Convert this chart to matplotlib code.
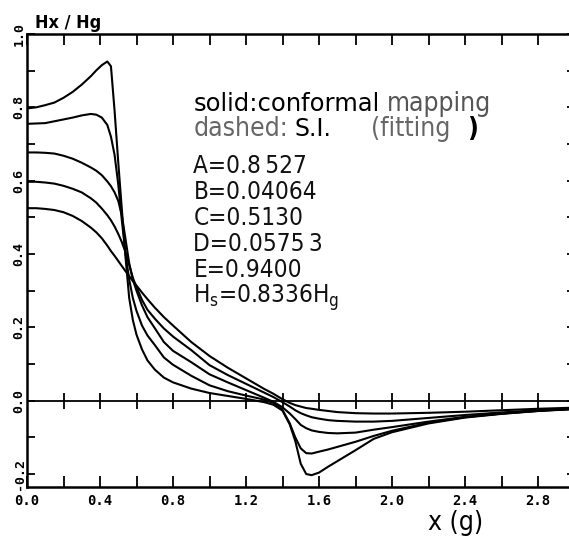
import numpy as np
import matplotlib
matplotlib.use('Agg')
import matplotlib.pyplot as plt

plt.rcParams['mathtext.fontset'] = 'custom'

x_g = [0.0, 0.05, 0.1, 0.15, 0.2, 0.25, 0.3, 0.35, 0.38, 0.41, 0.44, 0.46,
       0.48, 0.50, 0.52, 0.54, 0.56, 0.58, 0.6, 0.63, 0.66, 0.7, 0.75, 0.8,
       0.9, 1.0, 1.1, 1.2, 1.3, 1.35, 1.4, 1.44, 1.47, 1.5, 1.53, 1.56, 1.6,
       1.65, 1.7, 1.8, 1.9, 2.0, 2.2, 2.4, 2.6, 2.8, 3.0]

# Hx/Hg, five curves (top one with the sharp peak first)
hx_1 = [0.797, 0.800, 0.806, 0.813, 0.826, 0.842, 0.862, 0.885, 0.901, 0.915,
        0.925, 0.912, 0.790, 0.650, 0.520, 0.390, 0.280, 0.220, 0.180, 0.140,
        0.110, 0.085, 0.063, 0.050, 0.033, 0.021, 0.013, 0.005, -0.004,
        -0.011, -0.027, -0.065, -0.110, -0.172, -0.200, -0.203, -0.196,
        -0.180, -0.165, -0.135, -0.104, -0.086, -0.062, -0.046, -0.036,
        -0.028, -0.022]
hx_2 = [0.755, 0.756, 0.757, 0.762, 0.767, 0.772, 0.778, 0.782, 0.780, 0.772,
        0.752, 0.720, 0.670, 0.590, 0.490, 0.400, 0.330, 0.280, 0.245, 0.205,
        0.178, 0.152, 0.118, 0.098, 0.068, 0.042, 0.026, 0.014, 0.003,
        -0.006, -0.025, -0.062, -0.100, -0.130, -0.143, -0.144, -0.139,
        -0.133, -0.126, -0.112, -0.096, -0.082, -0.060, -0.045, -0.035,
        -0.027, -0.022]
hx_3 = [0.677, 0.677, 0.676, 0.674, 0.668, 0.660, 0.649, 0.636, 0.627, 0.615,
        0.598, 0.585, 0.568, 0.545, 0.505, 0.440, 0.375, 0.330, 0.300, 0.260,
        0.228, 0.198, 0.160, 0.136, 0.105, 0.072, 0.050, 0.029, 0.008,
        -0.003, -0.018, -0.035, -0.050, -0.066, -0.075, -0.081, -0.085,
        -0.088, -0.089, -0.087, -0.079, -0.072, -0.057, -0.044, -0.035,
        -0.028, -0.023]
hx_4 = [0.597, 0.597, 0.595, 0.592, 0.586, 0.578, 0.568, 0.552, 0.540, 0.524,
        0.506, 0.492, 0.475, 0.455, 0.432, 0.405, 0.370, 0.335, 0.310, 0.275,
        0.248, 0.224, 0.197, 0.175, 0.138, 0.097, 0.070, 0.046, 0.022, 0.010,
        -0.004, -0.016, -0.026, -0.034, -0.040, -0.045, -0.049, -0.053,
        -0.055, -0.057, -0.057, -0.055, -0.047, -0.039, -0.032, -0.026,
        -0.022]
hx_5 = [0.525, 0.525, 0.523, 0.520, 0.514, 0.504, 0.490, 0.472, 0.459, 0.443,
        0.423, 0.408, 0.395, 0.381, 0.367, 0.353, 0.340, 0.326, 0.314, 0.295,
        0.277, 0.254, 0.228, 0.205, 0.160, 0.122, 0.090, 0.061, 0.032, 0.019,
        0.004, -0.006, -0.012, -0.016, -0.020, -0.022, -0.025, -0.028,
        -0.031, -0.034, -0.035, -0.035, -0.033, -0.030, -0.026, -0.022,
        -0.019]

x_ticks = [0.0, 0.2, 0.4, 0.6, 0.8, 1.0, 1.2, 1.4, 1.6, 1.8, 2.0, 2.2, 2.4,
           2.6, 2.8, 3.0]
x_tick_labels = ['0.0', '', '0.4', '', '0.8', '', '1.2', '', '1.6', '',
                 '2.0', '', '2.4', '', '2.8', '']
y_ticks = [-0.2, -0.1, 0.0, 0.1, 0.2, 0.3, 0.4, 0.5, 0.6, 0.7, 0.8, 0.9, 1.0]
y_tick_labels = ['-0.2', '', '0.0', '', '0.2', '', '0.4', '', '0.6', '',
                 '0.8', '', '1.0']

param_lines = ['A=0.8\u2009527', 'B=0.04064', 'C=0.5130', 'D=0.0575\u20093',
               'E=0.9400', r'H$_\mathregular{s}$=0.8336H$_\mathregular{g}$']

narrow = dict(family='DejaVu Sans', stretch='condensed')
mono = ['DejaVu Sans Mono']

fig = plt.figure(figsize=(5.69, 5.40), dpi=100)
# right spine sits just past the edge of the scan, like the original
ax = fig.add_axes([27 / 569, 53.3 / 540, 547.5 / 569, 452.7 / 540])

for hx in [hx_1, hx_2, hx_3, hx_4, hx_5]:
    ax.plot(x_g, hx, color='black', lw=1.5, solid_joinstyle='round')

ax.set_xlim(0, 3.0)
ax.set_ylim(-0.2345, 1.0)

# zero line with crossing ticks
ax.axhline(0, color='black', lw=1.3)
ax.plot(x_ticks[1:], [0] * len(x_ticks[1:]), ls='none', marker='|',
        ms=11, mew=1.3, color='black')

for s in ax.spines.values():
    s.set_linewidth(1.8)

ax.set_xticks(x_ticks)
ax.set_xticklabels(x_tick_labels, family=mono, weight='bold', fontsize=10)
ax.set_yticks(y_ticks)
ax.set_yticklabels(y_tick_labels, family=mono, weight='bold', fontsize=9.5,
                   rotation=90, va='center')
ax.tick_params(axis='x', which='both', top=True, bottom=True,
               direction='in', length=8, width=1.3, pad=5)
ax.tick_params(axis='y', which='both', left=True, right=True,
               direction='in', length=6, width=1.3, pad=1)

# legend / parameter text
fs = 17.5
ax.text(0.912, 0.79, 'solid:conformal', family='DejaVu Sans', fontsize=17.5,
        color='black')
ax.text(1.973, 0.79, 'mapping', fontsize=19, color='#555555', **narrow)
ax.text(0.912, 0.722, 'dashed:', fontsize=19, color='#666666', **narrow)
ax.text(1.467, 0.722, 'S.I.', family='DejaVu Sans', fontsize=17,
        color='black')
ax.text(1.885, 0.722, '(fitting', fontsize=19, color='#666666', **narrow)
ax.text(2.41, 0.722, ')', fontsize=19, weight='bold', color='black',
        **narrow)

y0 = 0.621
for i, line in enumerate(param_lines):
    ax.text(0.912, y0 - i * 0.071, line, fontsize=fs, color='#111111',
            **narrow)

fig.text(35 / 569, 1 - 27.5 / 540, 'Hx / Hg', fontsize=13, weight='bold',
         **narrow)
fig.text(428 / 569, 1 - 530 / 540, 'x (g)', fontsize=19, **narrow)

fig.savefig('out.png', dpi=100)
